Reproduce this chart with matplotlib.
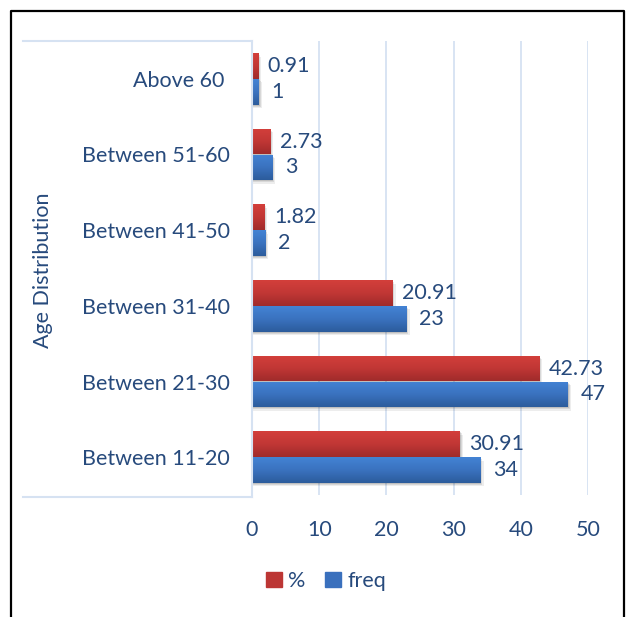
import matplotlib
matplotlib.use("Agg")
import matplotlib.pyplot as plt
import numpy as np
from matplotlib.patches import Rectangle
from matplotlib.lines import Line2D
from matplotlib.colors import LinearSegmentedColormap

categories = ["Between 11-20", "Between 21-30", "Between 31-40",
              "Between 41-50", "Between 51-60", "Above 60 "]
pct = [30.91, 42.73, 20.91, 1.82, 2.73, 0.91]
freq = [34, 47, 23, 2, 3, 1]
pct_labels = ["30.91", "42.73", "20.91", "1.82", "2.73", "0.91"]
freq_labels = ["34", "47", "23", "2", "3", "1"]
xticks = [0, 10, 20, 30, 40, 50]

plt.rcParams['font.family'] = ['Lato', 'DejaVu Sans']
txt = '#274a7c'
grid_c = '#d6e2f2'
FS = 15.5

fig = plt.figure(figsize=(6.28, 6.17), dpi=100)
ax = fig.add_axes([252/628, 1-495/617, (588-252)/628, (495-41)/617])

h = 0.34
ypos = np.arange(len(categories))
red_cm = LinearSegmentedColormap.from_list('r', ['#d33f3b', '#c13735', '#a02b2b'])
blue_cm = LinearSegmentedColormap.from_list('b', ['#4383d4', '#3a72bf', '#2c5c9c'])
grad = np.linspace(0, 1, 64).reshape(-1, 1)

def gbar(y0, w, cmap):
    # soft shadow
    for k, a in [(1.0, 0.07), (0.6, 0.09), (0.3, 0.11)]:
        ax.add_patch(Rectangle((0, y0 - 0.045 * k), w + 0.45 * k, h, color='#000000', alpha=a,
                               lw=0, zorder=2))
    r = Rectangle((0, y0), w, h, lw=0, facecolor='none', zorder=3)
    ax.add_patch(r)
    im = ax.imshow(grad, cmap=cmap, aspect='auto', extent=(0, w, y0, y0 + h),
                   origin='upper', zorder=3)
    im.set_clip_path(r)

for i in range(len(categories)):
    gbar(ypos[i], pct[i], red_cm)
    gbar(ypos[i] - h, freq[i], blue_cm)
    ax.annotate(pct_labels[i], (pct[i], ypos[i] + h / 2), xytext=(7, 0),
                textcoords='offset points', ha='left', va='center', fontsize=FS,
                color=txt, annotation_clip=False, zorder=5)
    ax.annotate(freq_labels[i], (freq[i], ypos[i] - h / 2), xytext=(9, 0),
                textcoords='offset points', ha='left', va='center', fontsize=FS,
                color=txt, annotation_clip=False, zorder=5)

ax.set_xlim(0, 50)
ax.set_ylim(-0.5, 5.5)
ax.set_xticks(xticks)
ax.set_xticklabels([str(t) for t in xticks], fontsize=FS, color=txt)
ax.set_yticks(ypos)
ax.set_yticklabels(categories, fontsize=FS, color=txt)
ax.tick_params(axis='x', length=0, pad=18)
ax.tick_params(axis='y', length=0, pad=16)
for s in ax.spines.values():
    s.set_visible(False)
ax.grid(axis='x', color=grid_c, lw=1.3, zorder=0)
ax.set_axisbelow(True)

# category axis box lines (figure coordinates)
X = lambda px: px / 628
Y = lambda py: 1 - py / 617
fig.add_artist(Line2D([X(23), X(252)], [Y(41), Y(41)], color=grid_c, lw=1.5))
fig.add_artist(Line2D([X(23), X(252)], [Y(497), Y(497)], color=grid_c, lw=1.5))
fig.add_artist(Line2D([X(252), X(252)], [Y(41), Y(497)], color=grid_c, lw=1.5))

# outer black frame
fig.add_artist(Line2D([X(11), X(11), X(624), X(624)], [Y(640), Y(11), Y(11), Y(640)],
                      color='black', lw=1.6))

fig.text(X(43), Y(270), "Age Distribution", rotation=90, ha='center', va='center',
         fontsize=FS, color=txt)

handles = [Rectangle((0, 0), 1, 1, color='#bc3634'), Rectangle((0, 0), 1, 1, color='#3a70bd')]
leg = fig.legend(handles, ['%', 'freq'], loc='center', bbox_to_anchor=(X(326), Y(581)),
                 ncol=2, frameon=False, fontsize=FS, handlelength=0.75, handleheight=0.75,
                 handletextpad=0.3, columnspacing=0.9)
for t in leg.get_texts():
    t.set_color(txt)

fig.savefig("out.png", dpi=100)
